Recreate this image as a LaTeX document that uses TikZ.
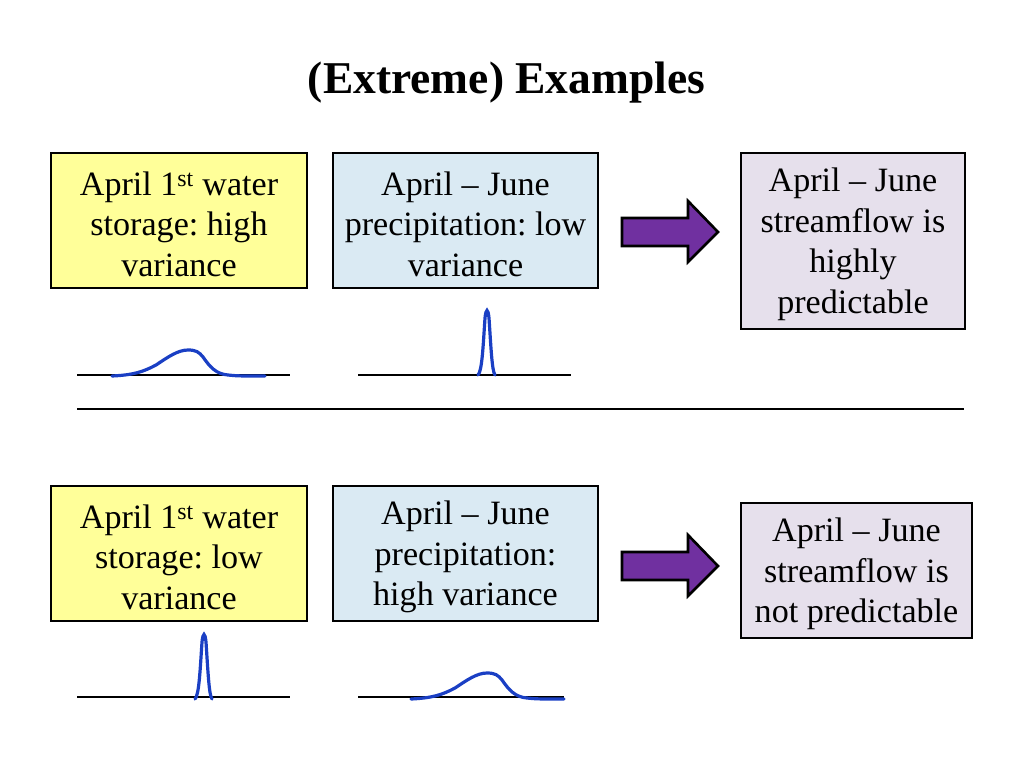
\documentclass[tikz,border=0pt]{standalone}
\usepackage{fontspec}
\setmainfont{Liberation Serif}
\frenchspacing
\definecolor{boxyellow}{HTML}{FFFF99}
\definecolor{boxblue}{HTML}{DAEAF3}
\definecolor{boxlav}{HTML}{E6E0EC}
\definecolor{arrowpurple}{HTML}{7030A0}
\definecolor{curveblue}{HTML}{1A3FC4}
\begin{document}
\begin{tikzpicture}[x=1pt,y=-1pt,
  box/.style={draw=black, line width=2.6pt, inner sep=0pt},
  boxtext/.style={inner sep=0pt, align=center,
    font=\fontsize{34.1}{40.5}\selectfont},
  axisline/.style={draw=black, line width=1.3pt},
  bell/.style={draw=curveblue, line width=3.2pt, line cap=round},
  broadbell/.pic={
    \draw[bell] (-76,26) .. controls (-55,25) and (-45,22) .. (-32,15)
      .. controls (-20,7) and (-10,0) .. (0,0)
      .. controls (8,0) and (11,2) .. (15,7)
      .. controls (22,17) and (28,24) .. (40,25)
      .. controls (50,26) .. (77,26);
  },
  narrowbell/.pic={
    \draw[bell] (-9,67) .. controls (-5,63) and (-4,40) .. (-2,10)
      .. controls (-1,0) and (1,0) .. (2,10)
      .. controls (4,40) and (5,63) .. (8,67);
  },
  blockarrow/.pic={
    \draw[fill=arrowpurple, line width=2.6pt, line join=miter]
      (0,-14) -- (66,-14) -- (66,-31) -- (96,0) -- (66,30) -- (66,14) -- (0,14) -- cycle;
  }]
\useasboundingbox (0,0) rectangle (1024,768);

% title
\node[font=\bfseries\fontsize{45.5}{50}\selectfont, anchor=base] (title) at (506.5,93) {(Extreme) Examples};

% top row
\node[box, fill=boxyellow, minimum width=256pt, minimum height=135pt] (s1) at (179,220.5) {};
\node[boxtext] (s1t) at ([yshift=-3.5pt]s1.center) {April 1\textsuperscript{st} water\\storage: high\\variance};
\node[box, fill=boxblue, minimum width=265pt, minimum height=135pt] (p1) at (465.5,220.5) {};
\node[boxtext] (p1t) at ([yshift=-3.5pt]p1.center) {April -- June\\precipitation: low\\variance};
\node[box, fill=boxlav, minimum width=224pt, minimum height=176pt] (r1) at (853,241) {};
\node[boxtext] (r1t) at ([yshift=-3.5pt]r1.center) {April -- June\\streamflow is\\highly\\predictable};
\pic at (622,232) {blockarrow};

\draw[axisline] (77,375) -- (290,375);
\draw[axisline] (358,375) -- (571,375);
\pic at (188,350) {broadbell};
\pic at (487,308) {narrowbell};

% separator
\draw[line width=2pt] (77,409) -- (964,409);

% bottom row
\node[box, fill=boxyellow, minimum width=256pt, minimum height=135pt] (s2) at (179,553.5) {};
\node[boxtext] (s2t) at ([yshift=-3.5pt]s2.center) {April 1\textsuperscript{st} water\\storage: low\\variance};
\node[box, fill=boxblue, minimum width=265pt, minimum height=135pt] (p2) at (465.5,553.5) {};
\node[boxtext] (p2t) at ([yshift=-3.5pt]p2.center) {April -- June\\precipitation:\\high variance};
\node[box, fill=boxlav, minimum width=231pt, minimum height=135pt] (r2) at (856.5,570.5) {};
\node[boxtext] (r2t) at ([yshift=-3.5pt]r2.center) {April -- June\\streamflow is\\not predictable};
\pic at (622,566) {blockarrow};

\draw[axisline] (77,697) -- (290,697);
\draw[axisline] (358,697) -- (564,697);
\pic at (204,632) {narrowbell};
\pic at (487,673) {broadbell};
\end{tikzpicture}
\end{document}
